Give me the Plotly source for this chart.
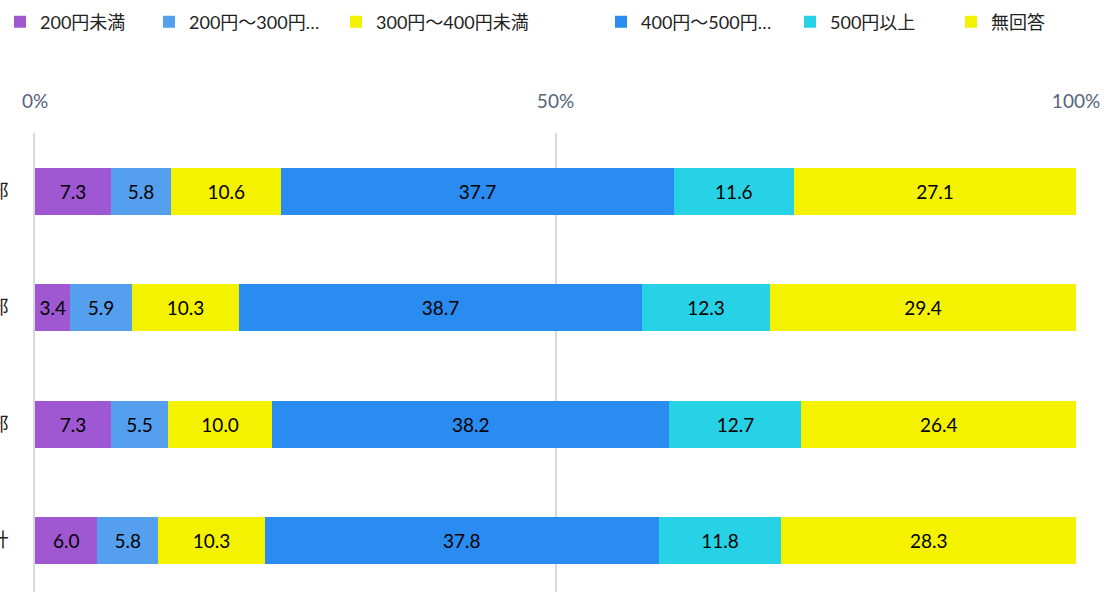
import plotly.graph_objects as go

categories = ["北部", "中部", "南部", "合計"]
series_names = ["200円未満", "200円～300円…", "300円～400円未満", "400円～500円…", "500円以上", "無回答"]
v_lt200 = [7.3, 3.4, 7.3, 6.0]
v_200_300 = [5.8, 5.9, 5.5, 5.8]
v_300_400 = [10.6, 10.3, 10.0, 10.3]
v_400_500 = [37.7, 38.7, 38.2, 37.8]
v_ge500 = [11.6, 12.3, 12.7, 11.8]
v_none = [27.1, 29.4, 26.4, 28.3]
x_tickvals = [0, 50, 100]
x_ticktext = ["0%", "50%", "100%"]

series_values = [v_lt200, v_200_300, v_300_400, v_400_500, v_ge500, v_none]
colors = ["#9f58d2", "#55a0ee", "#f5f200", "#2a8cf0", "#27d2e6", "#f5f200"]
legend_x_px = [12, 170, 357, 622, 811, 972]

W, H = 1104, 592
FONT = "Lato, 'Noto Sans CJK JP', sans-serif"

fig = go.Figure()
ypos = list(range(len(categories)))
for i, (name, vals, col) in enumerate(zip(series_names, series_values, colors)):
    lg = "legend" if i == 0 else f"legend{i+1}"
    fig.add_trace(go.Bar(
        y=ypos, x=vals, name=name, orientation="h",
        marker=dict(color=col, line=dict(width=0)),
        text=[f"{v:.1f}" for v in vals],
        textposition="inside", insidetextanchor="middle", textangle=0,
        constraintext="none",
        textfont=dict(size=19, color="#000000", family=FONT),
        hoverinfo="skip", legend=lg,
    ))

layout_legends = {}
for i, px in enumerate(legend_x_px):
    key = "legend" if i == 0 else f"legend{i+1}"
    layout_legends[key] = dict(
        xref="container", yref="container",
        x=(px - 21) / W, y=1 - 22 / H, xanchor="left", yanchor="middle",
        orientation="h", bgcolor="rgba(0,0,0,0)", borderwidth=0,
        font=dict(size=18, color="#222222", family=FONT),
        itemwidth=30, tracegroupgap=0,
    )

fig.update_layout(
    width=W, height=H,
    margin=dict(l=35, r=28, t=133, b=0),
    barmode="stack", barnorm="percent", bargap=0.6,
    plot_bgcolor="white", paper_bgcolor="white",
    font=dict(family=FONT),
    showlegend=True,
    xaxis=dict(
        side="top", range=[0, 100], tickvals=x_tickvals, ticktext=x_ticktext,
        showgrid=True, gridcolor="#d9d9d9", gridwidth=1.5, zeroline=False,
        showline=False, ticks="", ticklabelstandoff=20, automargin=False,
        tickfont=dict(size=19, color="#56647a", family=FONT),
    ),
    yaxis=dict(
        range=[3.44, -0.5], tickvals=ypos, ticktext=categories,
        showgrid=False, zeroline=False, showline=True, linecolor="#d9d9d9", linewidth=1.5,
        ticks="", ticklabelstandoff=21, automargin=False,
        tickfont=dict(size=19, color="#222222", family=FONT),
    ),
    **layout_legends,
)

fig.write_html(
    "out.html",
    config={"displayModeBar": False},
    post_script="document.body.style.margin='0';document.body.style.padding='0';",
)
